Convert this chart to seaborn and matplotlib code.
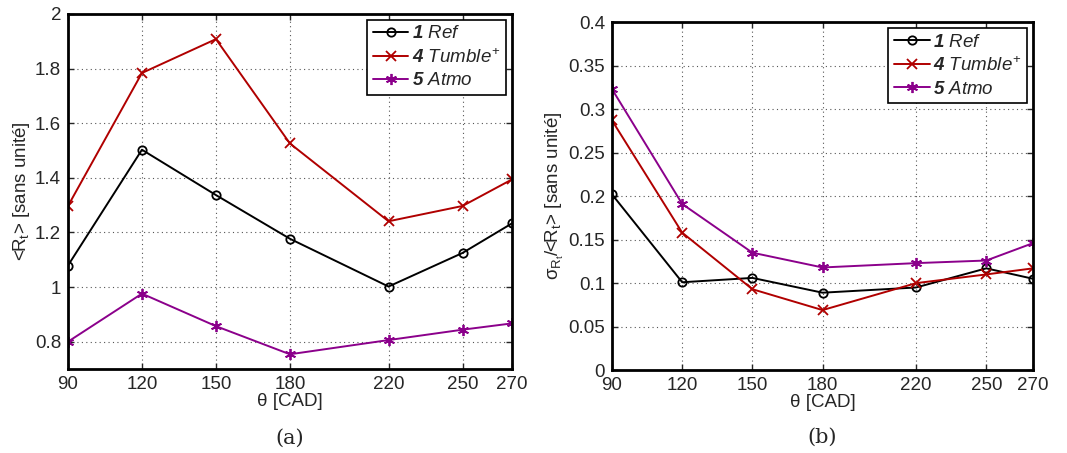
import pandas as pd
import matplotlib.pyplot as plt
import seaborn as sns

# ── DATA ───────────────────────────────────────────────
theta = [90, 120, 150, 180, 220, 250, 270]
series = ["1 Ref", "4 Tumble+", "5 Atmo"]

mean_ref = [1.079, 1.503, 1.337, 1.177, 1.002, 1.125, 1.233]
mean_tumble = [1.297, 1.784, 1.908, 1.526, 1.241, 1.297, 1.394]
mean_atmo = [0.800, 0.976, 0.857, 0.754, 0.806, 0.844, 0.867]

cov_ref = [0.202, 0.101, 0.106, 0.089, 0.095, 0.117, 0.105]
cov_tumble = [0.287, 0.158, 0.093, 0.069, 0.100, 0.110, 0.117]
cov_atmo = [0.323, 0.191, 0.135, 0.118, 0.123, 0.126, 0.146]

legend_labels = [r"$\mathbf{1}$ $\mathit{Ref}$",
                 r"$\mathbf{4}$ $\mathit{Tumble^{+}}$",
                 r"$\mathbf{5}$ $\mathit{Atmo}$"]

colors = {"1 Ref": "black", "4 Tumble+": "#b00000", "5 Atmo": "#8b008b"}
markers = {"1 Ref": "o", "4 Tumble+": "x", "5 Atmo": (6, 2, 0)}
msizes = {"1 Ref": 6, "4 Tumble+": 7, "5 Atmo": 8}

# long format tables
df_a = pd.DataFrame({"theta": theta * 3,
                     "val": mean_ref + mean_tumble + mean_atmo,
                     "cas": [s for s in series for _ in theta]})
df_b = pd.DataFrame({"theta": theta * 3,
                     "val": cov_ref + cov_tumble + cov_atmo,
                     "cas": [s for s in series for _ in theta]})

# ── STYLE ──────────────────────────────────────────────
sns.set_style("ticks")
plt.rcParams["font.family"] = ["Liberation Sans", "DejaVu Sans"]
plt.rcParams["mathtext.fontset"] = "custom"
plt.rcParams["mathtext.rm"] = "Liberation Sans"
plt.rcParams["mathtext.it"] = "Liberation Sans:italic"
plt.rcParams["mathtext.bf"] = "Liberation Sans:bold:italic"
plt.rcParams["xtick.direction"] = "in"
plt.rcParams["ytick.direction"] = "in"

FS = 13.5

fig = plt.figure(figsize=(10.67, 4.53), dpi=100)
ax1 = fig.add_axes([0.0637, 0.1854, 0.416, 0.7837])
ax2 = fig.add_axes([0.5736, 0.183, 0.3946, 0.768])


def draw(ax, df, ylim, yticks, yticklabels, ylabel, caption):
    for s in series:
        sub = df[df["cas"] == s]
        mfc = "none" if s == "1 Ref" else colors[s]
        sns.lineplot(data=sub, x="theta", y="val", ax=ax, color=colors[s],
                     marker=markers[s], markersize=msizes[s],
                     markerfacecolor=mfc, markeredgecolor=colors[s],
                     markeredgewidth=1.3, linewidth=1.4, label=None)
    ax.set_xlim(90, 270)
    ax.set_ylim(*ylim)
    ax.set_xticks(theta)
    ax.set_xticklabels([str(t) for t in theta])
    ax.set_yticks(yticks)
    ax.set_yticklabels(yticklabels)
    ax.tick_params(labelsize=FS, length=4, width=1, top=True, right=True,
                   pad=5)
    ax.grid(True, linestyle=(0, (1, 3)), color="#555555", linewidth=0.8)
    for sp in ax.spines.values():
        sp.set_linewidth(2)
        sp.set_color("black")
    ax.set_xlabel("θ [CAD]", fontsize=FS, labelpad=0)
    ax.set_ylabel(ylabel, fontsize=FS, labelpad=2)
    handles = ax.get_lines()[:3]
    leg = ax.legend(handles, legend_labels, loc="upper right", fontsize=FS,
                    frameon=True, fancybox=False, edgecolor="black",
                    framealpha=1, handlelength=1.9, handletextpad=0.2,
                    borderpad=0.3, labelspacing=0.3, borderaxespad=0.3)
    leg.get_frame().set_linewidth(1.2)
    ax.text(0.5, -0.194, caption, transform=ax.transAxes, ha="center",
            va="center", fontsize=15, family="DejaVu Serif")


draw(ax1, df_a, (0.7, 2.0), [0.8, 1.0, 1.2, 1.4, 1.6, 1.8, 2.0],
     ["0.8", "1", "1.2", "1.4", "1.6", "1.8", "2"],
     r"<R$_\mathrm{t}$> [sans unité]", "(a)")
draw(ax2, df_b, (0, 0.4), [0, 0.05, 0.1, 0.15, 0.2, 0.25, 0.3, 0.35, 0.4],
     ["0", "0.05", "0.1", "0.15", "0.2", "0.25", "0.3", "0.35", "0.4"],
     r"σ$_{\mathrm{R}_\mathrm{t}}$/<R$_\mathrm{t}$> [sans unité]", "(b)")

plt.savefig("out.png", dpi=100)
